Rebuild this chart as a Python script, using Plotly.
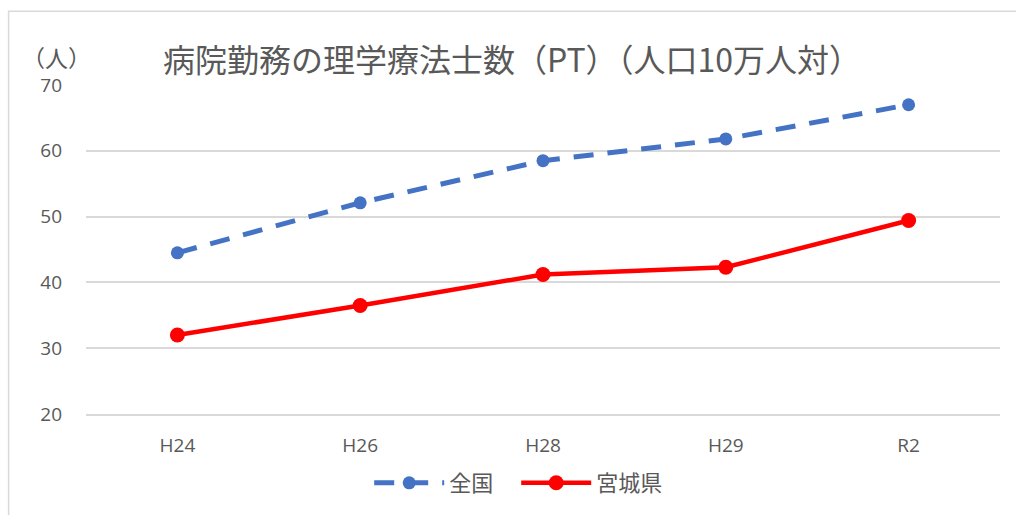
import plotly.graph_objects as go

categories = ["H24", "H26", "H28", "H29", "R2"]
zenkoku = [44.5, 52.1, 58.5, 61.8, 67.0]
miyagi = [32.0, 36.5, 41.2, 42.3, 49.4]
title_text = "病院勤務の理学療法士数（PT）（人口10万人対）"
unit_text = "（人）"

FONT = "Open Sans, Noto Sans CJK JP, sans-serif"
GRAY = "#595959"
GRID = "#d9d9d9"

fig = go.Figure()
fig.add_trace(go.Scatter(
    x=categories, y=zenkoku, name="全国", mode="lines+markers",
    line=dict(color="#4472C4", width=5, dash="20px,14px"),
    marker=dict(symbol="circle", size=13, color="#4472C4"),
))
fig.add_trace(go.Scatter(
    x=categories, y=miyagi, name="宮城県", mode="lines+markers",
    line=dict(color="#FF0000", width=4.5),
    marker=dict(symbol="circle", size=15, color="#FF0000"),
))

L, R, T, B = 85.5, 15.5, 85, 100
W, H = 1016, 515
pw, ph = W - L - R, H - T - B

def px_x(p):
    return (p - L) / pw

def px_y(p):
    return (H - B - p) / ph

fig.update_layout(
    width=W, height=H,
    margin=dict(l=L, r=R, t=T, b=B, pad=0),
    paper_bgcolor="white", plot_bgcolor="white",
    font=dict(family=FONT, color=GRAY, size=16),
    showlegend=True,
    legend=dict(orientation="h", x=px_x(369), xanchor="left",
                y=px_y(483), yanchor="middle", itemwidth=70,
                entrywidth=62, entrywidthmode="pixels",
                font=dict(size=22, family="Noto Sans CJK JP", color=GRAY),
                bgcolor="rgba(0,0,0,0)"),
    xaxis=dict(type="category", range=[-0.5, 4.5], showgrid=False, showline=True,
               linecolor=GRID, linewidth=1.5, ticks="",
               ticklabelstandoff=13, tickfont=dict(size=19, color=GRAY)),
    yaxis=dict(range=[20, 70], dtick=10, tick0=20, showgrid=True,
               gridcolor=GRID, gridwidth=1.5, zeroline=False, showline=False,
               ticks="", ticklabelstandoff=23, tickfont=dict(size=19, color=GRAY)),
    shapes=[dict(type="rect", xref="paper", yref="paper",
                 x0=px_x(8), x1=px_x(1030), y0=px_y(530), y1=px_y(11),
                 line=dict(color=GRID, width=1.5), fillcolor="rgba(0,0,0,0)",
                 layer="below")],
    annotations=[
        dict(text=title_text, xref="paper", yref="paper",
             x=px_x(512), y=px_y(58), xanchor="center", yanchor="middle",
             showarrow=False, font=dict(size=32, family="Noto Sans CJK JP", color=GRAY)),
        dict(text=unit_text, xref="paper", yref="paper",
             x=px_x(56), y=px_y(57), xanchor="center", yanchor="middle",
             showarrow=False, font=dict(size=23, family="Noto Sans CJK JP", color=GRAY)),
    ],
)

fig.write_html("out.html", config={"displayModeBar": False},
               post_script="document.body.style.margin='0';document.body.style.overflow='hidden';")
